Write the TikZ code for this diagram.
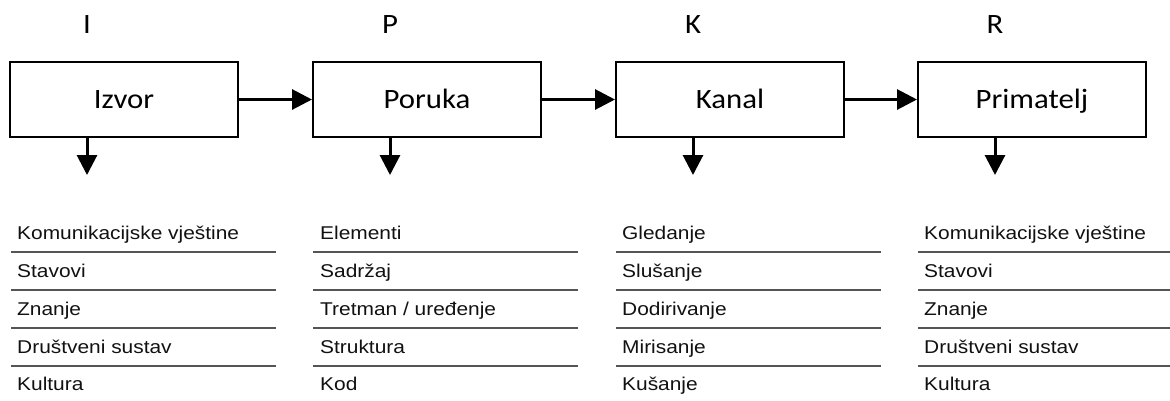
\documentclass[tikz,border=0pt]{standalone}
\usepackage{fontspec}
\usetikzlibrary{arrows.meta}
\newfontfamily\boxfont[FakeStretch=1.1]{Carlito}
\newfontfamily\listfont[FakeStretch=1.13]{Liberation Sans}
\definecolor{rulegray}{HTML}{555555}
\definecolor{ink}{HTML}{111111}

\begin{document}
\begin{tikzpicture}[x=1pt,y=-1pt,
  stage/.style={draw, line width=2pt, minimum width=228pt, minimum height=75pt,
    inner sep=0pt, text height=18pt, text depth=0pt,
    font=\boxfont\fontsize{28}{30}\selectfont},
  letter/.style={anchor=base, inner sep=0pt, font=\boxfont\fontsize{28}{30}\selectfont},
  flow/.style={-{Triangle[length=20pt,width=20pt]}, line width=3pt},
  item/.style={anchor=base west, inner sep=0pt, text=ink,
    font=\listfont\fontsize{18.5}{20}\selectfont},
  sep/.style={draw=rulegray, line width=1.3pt}
]
\useasboundingbox (0,0) rectangle (1170,400);

% the four stages of the model
\node[stage] (izvor)     at (124,99.5)  {Izvor};
\node[stage] (poruka)    at (427,99.5)  {Poruka};
\node[stage] (kanal)     at (730,99.5)  {Kanal};
\node[stage] (primatelj) at (1032,99.5) {Primatelj};

% initials above the stages
\node[letter] (li) at (87,33)  {I};
\node[letter] (lp) at (390,33) {P};
\node[letter] (lk) at (693,33) {K};
\node[letter] (lr) at (995,33) {R};

% flow between the stages
\draw[flow] (izvor.east)  -- (poruka.west);
\draw[flow] (poruka.east) -- (kanal.west);
\draw[flow] (kanal.east)  -- (primatelj.west);

% arrows down to the lists
\coordinate (di) at (87,175);
\coordinate (dp) at (390,175);
\coordinate (dk) at (693,175);
\coordinate (dr) at (995,175);
\draw[flow] (izvor.south -| di)     -- (di);
\draw[flow] (poruka.south -| dp)    -- (dp);
\draw[flow] (kanal.south -| dk)     -- (dk);
\draw[flow] (primatelj.south -| dr) -- (dr);

% separator rules of the four lists
\foreach \x/\w in {11/265, 313/265, 616/265, 918/252}
  \foreach \y in {252,290,328,366}
    \draw[sep] (\x,\y) -- ++(\w,0);

% Izvor
\node[item] (i1) at (17,239) {Komunikacijske vještine};
\node[item] (i2) at (17,277) {Stavovi};
\node[item] (i3) at (17,315) {Znanje};
\node[item] (i4) at (17,353) {Društveni sustav};
\node[item] (i5) at (17,390) {Kultura};

% Poruka
\node[item] (p1) at (320,239) {Elementi};
\node[item] (p2) at (320,277) {Sadržaj};
\node[item] (p3) at (320,315) {Tretman / uređenje};
\node[item] (p4) at (320,353) {Struktura};
\node[item] (p5) at (320,390) {Kod};

% Kanal
\node[item] (k1) at (622,239) {Gledanje};
\node[item] (k2) at (622,277) {Slušanje};
\node[item] (k3) at (622,315) {Dodirivanje};
\node[item] (k4) at (622,353) {Mirisanje};
\node[item] (k5) at (622,390) {Kušanje};

% Primatelj
\node[item] (r1) at (924,239) {Komunikacijske vještine};
\node[item] (r2) at (924,277) {Stavovi};
\node[item] (r3) at (924,315) {Znanje};
\node[item] (r4) at (924,353) {Društveni sustav};
\node[item] (r5) at (924,390) {Kultura};
\end{tikzpicture}
\end{document}
